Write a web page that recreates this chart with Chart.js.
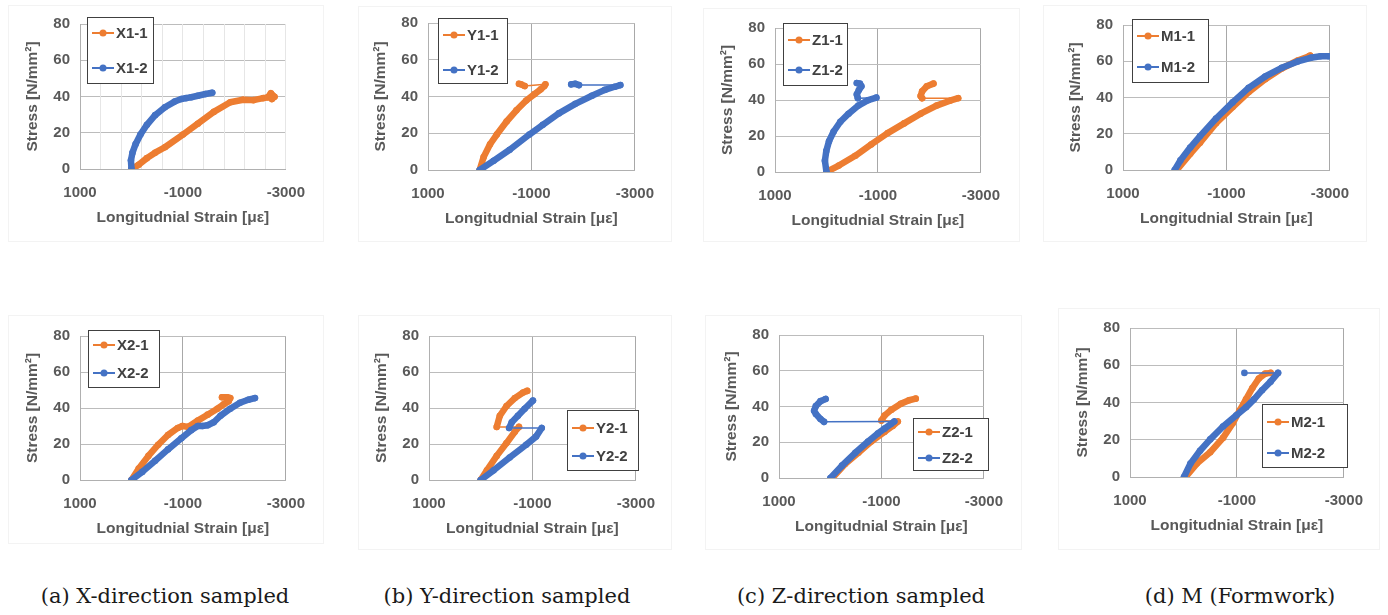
<!DOCTYPE html>
<html>
<head>
<meta charset="utf-8">
<script src="https://cdn.jsdelivr.net/npm/chart.js@4.4.1/dist/chart.umd.min.js"></script>
<style>
  body { margin: 0; background: #fff; width: 1388px; height: 615px; position: relative; overflow: hidden; }
  canvas { position: absolute; }
  .frame { position: absolute; border: 1px solid #f3f3f3; }
  .cap { position: absolute; top: 584px; font-family: "DejaVu Serif", serif; font-size: 21px; color: #1a1a1a; white-space: nowrap; transform: translateX(-50%); }
</style>
</head>
<body>
<script>
// axis ticks
const xTicks = [1000, -1000, -3000];
const yTicks = [0, 20, 40, 60, 80];
const xTitle = 'Longitudnial Strain [με]';
const yTitle = 'Stress [N/mm²]';
const captions = ['(a) X-direction sampled', '(b) Y-direction sampled', '(c) Z-direction sampled', '(d) M (Formwork)'];

// series: strain [με], stress [N/mm²]; jumps = index where a thin connector starts
const x11Strain = [0, -140, -300, -460, -650, -1000, -1290, -1600, -1920, -2170, -2370, -2560, -2650, -2710, -2780, -2730];
const x11Stress = [0, 2.3, 6, 9, 12, 19, 25, 31.5, 36.8, 38.2, 38, 39.1, 39.5, 41.8, 39.8, 38.6];
const x12Strain = [0, 10, -20, -80, -175, -300, -460, -650, -840, -970, -1060, -1160, -1290, -1440, -1570];
const x12Stress = [0, 4.8, 9, 13.7, 19, 24.4, 29.7, 34.1, 37.2, 38.6, 39.1, 39.6, 40.4, 41.4, 42.1];

const y11Strain = [0, -75, -200, -330, -520, -710, -900, -1060, -1180, -1250, -1270, -870, -800, -760];
const y11Stress = [0, 7, 14, 19.3, 26.4, 32.5, 37.8, 41.3, 43.9, 45.7, 46.6, 45.7, 46.6, 46.9];
const y11Jumps = [10];
const y12Strain = [0, -270, -580, -960, -1220, -1530, -1850, -2170, -2420, -2610, -2720, -1920, -1850, -1770];
const y12Stress = [0, 5, 11, 19.3, 24.6, 30.8, 36, 40.4, 43.6, 45.3, 46.2, 46.2, 46.9, 46.6];
const y12Jumps = [10];

const z11Strain = [0, -240, -560, -870, -1190, -1510, -1830, -2140, -2400, -2560, -1860, -1830, -1860, -1950, -2080];
const z11Stress = [0, 3.6, 9, 15.3, 21.6, 27, 32.4, 36.9, 39.6, 41, 41, 42.2, 44.9, 47.6, 49.1];
const z11Jumps = [9];
const z12Strain = [0, 30, 3, -50, -140, -270, -430, -620, -810, -970, -610, -590, -630, -680, -650, -590];
const z12Stress = [0, 6.3, 11.7, 17.1, 22.5, 27.9, 32.4, 36.9, 39.9, 41.3, 41, 43.1, 45.5, 47.6, 49.1, 49.4];
const z12Jumps = [9];

const m11Strain = [-40, -300, -490, -800, -1120, -1430, -1750, -2070, -2380, -2600, -2620];
const m11Stress = [0, 8.9, 15.1, 25.8, 34.7, 43, 50.1, 56, 60.4, 62.8, 63.1];
const m12Strain = [0, -110, -300, -490, -800, -1120, -1430, -1750, -2070, -2380, -2630, -2820, -2980];
const m12Stress = [0, 5.3, 12.4, 18.7, 28.4, 37.3, 45.3, 51.6, 56.4, 59.9, 61.9, 62.8, 62.8];

const x21Strain = [0, -140, -330, -520, -710, -900, -990, -1100, -1290, -1480, -1670, -1790, -1890, -1920, -1860, -1760];
const x21Stress = [0, 6.3, 13.4, 19.6, 25, 28.9, 30, 29.5, 33, 36.3, 39.6, 42, 43.8, 45.5, 46, 46];
const x22Strain = [0, -210, -460, -710, -970, -1160, -1290, -1380, -1480, -1600, -1730, -1920, -2110, -2270, -2400];
const x22Stress = [0, 4.5, 10.7, 17, 23.2, 27.7, 30, 30, 30.4, 32.1, 35.7, 39.6, 42.9, 44.6, 45.5];

const y21Strain = [0, -120, -310, -500, -660, -740, -310, -370, -500, -660, -820, -900];
const y21Stress = [0, 5.4, 13.4, 20.5, 26.8, 29.5, 29.5, 35.7, 41.1, 45.5, 48.6, 49.5];
const y21Jumps = [5];
const y22Strain = [0, -250, -560, -880, -1070, -1180, -550, -600, -720, -850, -1010];
const y22Stress = [0, 5.4, 12.5, 19.6, 24.1, 28.9, 28.9, 32.1, 35.7, 39.6, 44.1];
const y22Jumps = [5];

const z21Strain = [-40, -290, -550, -800, -1060, -1220, -1320, -1000, -1060, -1190, -1380, -1540, -1670];
const z21Stress = [0, 7.8, 14.1, 20.4, 25.8, 29.1, 31.6, 32.1, 34.9, 38.1, 41.5, 43.5, 44.4];
const z21Jumps = [6];
const z22Strain = [-5, -230, -490, -740, -930, -1060, -1190, -1250, 120, 190, 280, 315, 280, 190, 90];
const z22Stress = [0, 6.9, 14.1, 20.4, 24.9, 27.6, 30.3, 31.6, 31.4, 33, 35.8, 37.6, 40.3, 43, 44.2];
const z22Jumps = [7];

const m21Strain = [-40, -250, -500, -740, -920, -1050, -1170, -1290, -1410, -1530, -1630];
const m21Stress = [0, 7.2, 13.3, 21, 28.8, 35.7, 41.7, 47.8, 52.9, 55.5, 55.9];
const m22Strain = [-10, -130, -310, -500, -740, -990, -1170, -1320, -1470, -1630, -1770, -1140];
const m22Stress = [0, 7.2, 14.1, 20.2, 27.1, 33.1, 37.4, 41.7, 46.6, 51.2, 55.9, 55.9];
const m22Jumps = [10];

const orange = '#ED7D31';
const blue = '#4472C4';
const gray = '#595959';

// layout: plot rect [l, t, r, b], legend [x0, y0, x1, y1, row1, row2], outer frame
const panels = [
  { plot: [80, 19, 290, 169], legend: [87, 17, 153, 83, 33, 68], frame: [8, 5, 322, 240], minor: true,
    series: [['X1-1', x11Strain, x11Stress, [], orange], ['X1-2', x12Strain, x12Stress, [], blue]] },
  { plot: [428, 18, 639, 170], legend: [438, 18, 507, 83, 35, 70], frame: [358, 6, 670, 240],
    series: [['Y1-1', y11Strain, y11Stress, y11Jumps, orange], ['Y1-2', y12Strain, y12Stress, y12Jumps, blue]] },
  { plot: [775, 23, 985, 172], legend: [783, 23, 847, 85, 40, 70], frame: [703, 8, 1018, 240],
    series: [['Z1-1', z11Strain, z11Stress, z11Jumps, orange], ['Z1-2', z12Strain, z12Stress, z12Jumps, blue]] },
  { plot: [1123, 20, 1334, 170], legend: [1132, 19, 1208, 82, 36, 67], frame: [1043, 5, 1365, 240],
    series: [['M1-1', m11Strain, m11Stress, [], orange], ['M1-2', m12Strain, m12Stress, [], blue]] },
  { plot: [80, 331, 290, 480], legend: [88, 330, 159, 387, 345, 373], frame: [8, 315, 322, 542],
    series: [['X2-1', x21Strain, x21Stress, [], orange], ['X2-2', x22Strain, x22Stress, [], blue]] },
  { plot: [429, 331, 640, 480], legend: [567, 410, 638, 470, 428, 456], frame: [358, 315, 670, 548],
    series: [['Y2-1', y21Strain, y21Stress, y21Jumps, orange], ['Y2-2', y22Strain, y22Stress, y22Jumps, blue]] },
  { plot: [779, 330, 988, 478], legend: [913, 418, 988, 470, 432, 458], frame: [705, 315, 1020, 548],
    series: [['Z2-1', z21Strain, z21Stress, z21Jumps, orange], ['Z2-2', z22Strain, z22Stress, z22Jumps, blue]] },
  { plot: [1130, 323, 1348, 477], legend: [1262, 404, 1347, 467, 422, 453], frame: [1058, 308, 1378, 548],
    series: [['M2-1', m21Strain, m21Stress, [], orange], ['M2-2', m22Strain, m22Stress, m22Jumps, blue]] },
];

const captionX = [165, 507, 861, 1240];

const PAD_L = 80, PAD_T = 14, PAD_R = 30, PAD_B = 70;

// legend drawn inside the plot like the Excel one
const boxLegend = {
  id: 'boxLegend',
  afterDraw(chart, args, opts) {
    const ctx = chart.ctx;
    const [x0, y0, x1, y1, r1, r2] = opts.box;
    ctx.save();
    ctx.fillStyle = '#fff';
    ctx.fillRect(x0, y0, x1 - x0, y1 - y0);
    ctx.strokeStyle = '#404040';
    ctx.lineWidth = 1;
    ctx.strokeRect(x0 + 0.5, y0 + 0.5, x1 - x0, y1 - y0);
    [r1, r2].forEach((ry, i) => {
      const ds = chart.data.datasets[i];
      ctx.strokeStyle = ds.borderColor;
      ctx.lineWidth = 2;
      ctx.beginPath();
      ctx.moveTo(x0 + 5, ry);
      ctx.lineTo(x0 + 27, ry);
      ctx.stroke();
      ctx.fillStyle = ds.borderColor;
      ctx.beginPath();
      ctx.arc(x0 + 16, ry, 3.5, 0, Math.PI * 2);
      ctx.fill();
      ctx.fillStyle = '#404040';
      ctx.font = 'bold 15px "Liberation Sans", Arial, sans-serif';
      ctx.textBaseline = 'middle';
      ctx.fillText(ds.label, x0 + 29, ry + 1);
    });
    ctx.restore();
  }
};

panels.forEach((p, k) => {
  const [l, t, r, b] = p.plot;
  const cx = l - PAD_L, cy = t - PAD_T;
  const w = (r - l) + PAD_L + PAD_R, h = (b - t) + PAD_T + PAD_B;

  const fr = document.createElement('div');
  fr.className = 'frame';
  fr.style.left = p.frame[0] + 'px';
  fr.style.top = p.frame[1] + 'px';
  fr.style.width = (p.frame[2] - p.frame[0]) + 'px';
  fr.style.height = (p.frame[3] - p.frame[1]) + 'px';
  document.body.appendChild(fr);

  const canvas = document.createElement('canvas');
  canvas.width = w;
  canvas.height = h;
  canvas.style.left = cx + 'px';
  canvas.style.top = cy + 'px';
  document.body.appendChild(canvas);

  const datasets = p.series.map(([label, xs, ys, jumps, color], i) => ({
    label: label,
    data: xs.map((x, j) => ({ x: x, y: ys[j] })),
    borderColor: color,
    backgroundColor: color,
    showLine: true,
    borderWidth: 6.5,
    borderCapStyle: 'round',
    borderJoinStyle: 'round',
    pointRadius: 3.3,
    pointBorderWidth: 0,
    pointHoverRadius: 3.3,
    order: color === blue ? 0 : 1,
    segment: {
      borderWidth: c => jumps.includes(c.p0DataIndex) ? 1.5 : 6.5
    }
  }));

  const L = p.legend;
  const tickFont = { family: '"Liberation Sans", Arial, sans-serif', size: 15, weight: 'bold' };
  const titleFont = { family: '"Liberation Sans", Arial, sans-serif', size: 15.5, weight: 'bold' };

  const scales = {
    x: {
      type: 'linear', position: 'bottom', reverse: true, min: -3000, max: 1000,
      afterBuildTicks: s => { s.ticks = xTicks.map(v => ({ value: v })); },
      afterFit: s => { s.height = PAD_B; },
      ticks: { font: tickFont, color: gray, padding: 15, maxRotation: 0, autoSkip: false, callback: v => String(v) },
      grid: { color: '#a8a8a8', drawTicks: false },
      border: { color: '#b0b0b0' },
      title: { display: true, text: xTitle, font: titleFont, color: gray, padding: { top: 0, bottom: 12 } }
    },
    y: {
      type: 'linear', position: 'left', min: 0, max: 80,
      afterBuildTicks: s => { s.ticks = yTicks.map(v => ({ value: v })); },
      afterFit: s => { s.width = PAD_L; },
      ticks: { font: tickFont, color: gray, padding: 10, callback: v => String(v) },
      grid: { color: '#bcbcbc', drawTicks: false },
      border: { color: '#b0b0b0' },
      title: { display: true, text: yTitle, font: titleFont, color: gray, padding: { top: 23, bottom: 0 } }
    }
  };
  if (p.minor) {
    scales.x2 = {
      type: 'linear', position: 'bottom', reverse: true, min: -3000, max: 1000, z: -1,
      ticks: { display: false, stepSize: 400 },
      afterFit: s => { s.height = 0; },
      grid: { color: '#e6e6e6', drawTicks: false },
      border: { display: false }
    };
  }

  new Chart(canvas, {
    type: 'scatter',
    data: { datasets: datasets },
    options: {
      responsive: false,
      animation: false,
      devicePixelRatio: 1,
      layout: { padding: { left: 0, top: PAD_T, right: PAD_R, bottom: 0 } },
      scales: scales,
      plugins: {
        legend: { display: false },
        tooltip: { enabled: false },
        boxLegend: { box: [L[0] - cx, L[1] - cy, L[2] - cx, L[3] - cy, L[4] - cy, L[5] - cy] }
      }
    },
    plugins: [boxLegend]
  });
});

captions.forEach((text, i) => {
  const d = document.createElement('div');
  d.className = 'cap';
  d.textContent = text;
  d.style.left = captionX[i] + 'px';
  document.body.appendChild(d);
});
</script>
</body>
</html>
